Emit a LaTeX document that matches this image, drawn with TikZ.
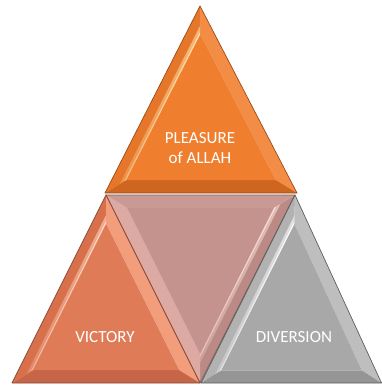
\documentclass[tikz,border=0pt]{standalone}
\usepackage{fontspec}
\setmainfont{Carlito}
\usetikzlibrary{calc}
\definecolor{oFace}{HTML}{EF7F2E}
\definecolor{oL}{HTML}{E6772A}
\definecolor{oR}{HTML}{F38D46}
\definecolor{oB}{HTML}{CF6620}
\definecolor{oH}{HTML}{FFE2AA}
\definecolor{oE}{HTML}{9A4A18}
\definecolor{sFace}{HTML}{DF7B57}
\definecolor{sL}{HTML}{D8704C}
\definecolor{sR}{HTML}{F29E7C}
\definecolor{sB}{HTML}{C66548}
\definecolor{sH}{HTML}{FFD6C2}
\definecolor{sE}{HTML}{8A4A36}
\definecolor{mFace}{HTML}{C4938D}
\definecolor{mL}{HTML}{DCAAA2}
\definecolor{mR}{HTML}{BC8A84}
\definecolor{mT}{HTML}{C99A94}
\definecolor{mH}{HTML}{FAE0DA}
\definecolor{mE}{HTML}{7A5A56}
\definecolor{gFace}{HTML}{A8A8A8}
\definecolor{gL}{HTML}{B2B2B2}
\definecolor{gR}{HTML}{BEBEBE}
\definecolor{gB}{HTML}{959595}
\definecolor{gH}{HTML}{FFFFFF}
\definecolor{gE}{HTML}{5E5E5E}
% #1 prefix, #2 facet a-b, #3 facet a-c, #4 facet b-c, #5 face, #6 highlight, #7 edge
\newcommand\BevTri[7]{%
  \coordinate (#1-ai) at ($(#1-i)!0.78!(#1-a)$);
  \coordinate (#1-bi) at ($(#1-i)!0.78!(#1-b)$);
  \coordinate (#1-ci) at ($(#1-i)!0.78!(#1-c)$);
  \fill[#2] (#1-a)--(#1-b)--(#1-bi)--(#1-ai)--cycle;
  \fill[#3] (#1-a)--(#1-c)--(#1-ci)--(#1-ai)--cycle;
  \fill[#4] (#1-b)--(#1-c)--(#1-ci)--(#1-bi)--cycle;
  \fill[#5] (#1-ai)--(#1-bi)--(#1-ci)--cycle;
  \shade[top color=#6!60!#2, bottom color=#6!25!#2]
    ($(#1-ai)!0.1!(#1-a)$)--($(#1-bi)!0.1!(#1-b)$)--($(#1-bi)!0.3!(#1-b)$)--($(#1-ai)!0.3!(#1-a)$)--cycle;
  \shade[top color=#6, bottom color=#6!60!#2]
    (#1-ai)--(#1-bi)--($(#1-bi)!0.1!(#1-b)$)--($(#1-ai)!0.1!(#1-a)$)--cycle;
  \draw[#7, line width=0.7pt, line join=round] (#1-a)--(#1-b)--(#1-c)--cycle;
}
\begin{document}
\begin{tikzpicture}[x=1pt,y=-1pt,
  lbl/.style={text=white,font=\fontsize{17}{20}\selectfont,align=center}]
\useasboundingbox (0,0) rectangle (382,385);
% middle inverted triangle
\coordinate (m-a) at (200,383);
\coordinate (m-b) at (295,195);
\coordinate (m-c) at (106,195);
\coordinate (m-i) at (200.5,253);
\BevTri{m}{mR}{mL}{mT}{mFace}{mH}{mE}
% bottom-left triangle
\coordinate (l-a) at (106,195);
\coordinate (l-b) at (12,383);
\coordinate (l-c) at (200,383);
\coordinate (l-i) at (106,325);
\BevTri{l}{sL}{sR}{sB}{sFace}{sH}{sE}
% bottom-right triangle
\coordinate (r-a) at (295,195);
\coordinate (r-b) at (201,383);
\coordinate (r-c) at (381.5,383);
\coordinate (r-i) at (292,326);
\BevTri{r}{gL}{gR}{gB}{gFace}{gH}{gE}
% top triangle
\coordinate (t-a) at (200,6);
\coordinate (t-b) at (105,193);
\coordinate (t-c) at (297,193);
\coordinate (t-i) at (201,134);
\BevTri{t}{oL}{oR}{oB}{oFace}{oH}{oE}
% labels
\node[lbl] (tl) at (200,148) {PLEASURE\\of ALLAH};
\node[lbl] (ll) at (105,337) {VICTORY};
\node[lbl] (rl) at (294,337) {DIVERSION};
\end{tikzpicture}
\end{document}
